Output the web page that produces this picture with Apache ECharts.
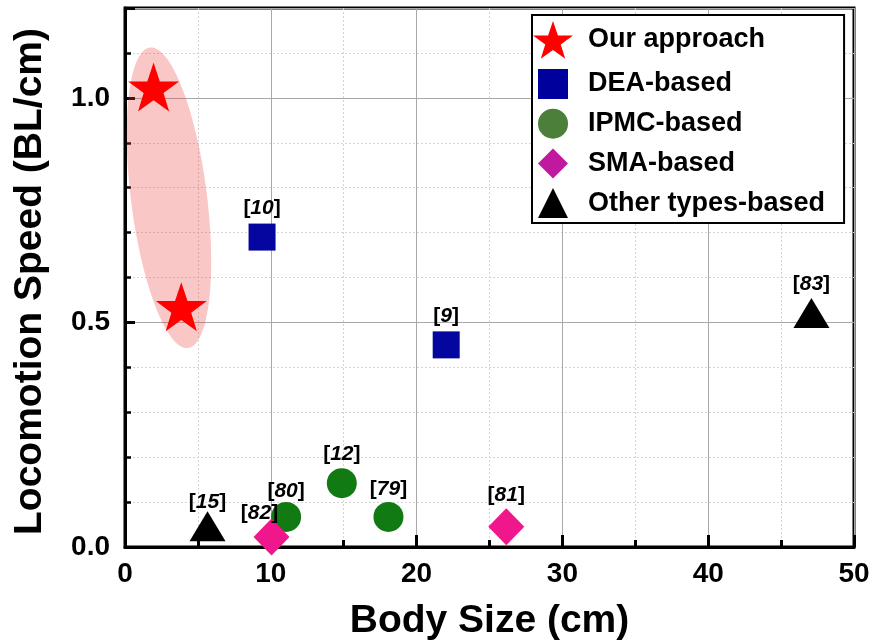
<!DOCTYPE html>
<html>
<head>
<meta charset="utf-8">
<script src="https://cdn.jsdelivr.net/npm/echarts@6/dist/echarts.min.js"></script>
<style>
html,body{margin:0;padding:0;background:#fff;}
#chart{width:873px;height:641px;}
</style>
</head>
<body>
<div id="chart"></div>
<script>
// ---- data ----
const ourX = [1.96, 3.86];
const ourY = [1.024, 0.535];

const deaX = [9.4, 22.03];
const deaY = [0.69, 0.45];
const deaRefs = ['10', '9'];

const ipmcX = [14.87, 11.05, 18.07];
const ipmcY = [0.142, 0.067, 0.067];
const ipmcRefs = ['12', '80', '79'];

const smaX = [10.05, 26.15];
const smaY = [0.022, 0.045];
const smaRefs = ['82', '81'];

const otherX = [5.66, 47.08];
const otherY = [0.046, 0.521];
const otherRefs = ['15', '83'];

// ellipse highlighting "Our approach": two ends of the major axis (x1, y1, x2, y2)
const ellipseEnds = [1.71, 1.112, 4.32, 0.443];

const seriesNames = ['Our approach', 'DEA-based', 'IPMC-based', 'SMA-based', 'Other types-based'];
const xTicks = [0, 10, 20, 30, 40, 50];
const yTicks = [0.0, 0.5, 1.0];

// ---- styles ----
const FONT = '"Liberation Sans", Arial, Helvetica, sans-serif';
const STAR = 'path://M50,0 L61.8,35.1 L98.1,35.1 L68.7,56.7 L79.4,91 L50,70 L20.6,91 L31.3,56.7 L1.9,35.1 L38.2,35.1 Z';
const ELLIPSE_HALF_WIDTH = 38;
const labelDistance = {'10': 5, '9': 5, '12': 4, '79': 2, '80': 0, '15': -1, '81': 3, '83': 3};
const labelOffset = {'82': [-12, 10]};

const richLabel = {
  b: {fontFamily: FONT, fontSize: 21, fontWeight: 'bold', color: '#000', opacity: 1},
  i: {fontFamily: FONT, fontSize: 21, fontWeight: 'bold', fontStyle: 'italic', color: '#000', opacity: 1}
};

function refData(xs, ys, refs) {
  return xs.map((x, i) => {
    const item = {value: [x, ys[i]], name: refs[i]};
    const lab = {show: true, position: 'top'};
    if (labelDistance[refs[i]] != null) lab.distance = labelDistance[refs[i]];
    if (labelOffset[refs[i]]) lab.offset = labelOffset[refs[i]];
    item.label = lab;
    return item;
  });
}

const refLabel = {
  show: true,
  position: 'top',
  color: '#000',
  opacity: 1,
  formatter: p => '{b|[}{i|' + p.name + '}{b|]}',
  rich: richLabel
};

const chart = echarts.init(document.getElementById('chart'), null, {renderer: 'canvas'});

const option = {
  backgroundColor: '#fff',
  animation: false,
  grid: {left: 125, right: 19, top: 8, bottom: 94, show: true, borderColor: '#000', borderWidth: 3,
         containLabel: false, outerBoundsMode: 'none'},
  xAxis: {
    type: 'value', min: xTicks[0], max: xTicks[xTicks.length - 1], interval: xTicks[1] - xTicks[0],
    name: 'Body Size (cm)', nameLocation: 'middle', nameGap: 55,
    nameTextStyle: {fontFamily: FONT, fontSize: 39, fontWeight: 'bold', color: '#000'},
    axisLine: {show: true, lineStyle: {color: '#000', width: 3}},
    axisTick: {show: true, inside: true, length: 12, lineStyle: {color: '#000', width: 3}},
    minorTick: {show: true, splitNumber: 2, length: 7, lineStyle: {color: '#000', width: 3}},
    axisLabel: {fontFamily: FONT, fontSize: 28, fontWeight: 'bold', color: '#000', margin: 13},
    splitLine: {show: true, lineStyle: {color: '#A8A8A8', width: 1}},
    minorSplitLine: {show: true, lineStyle: {color: '#D4D4D4', width: 1, type: [2, 2]}}
  },
  yAxis: [
    {
      type: 'value', min: 0, max: 1.2, interval: 0.1, position: 'left',
      name: 'Locomotion Speed (BL/cm)', nameLocation: 'middle', nameGap: 75,
      nameTextStyle: {fontFamily: FONT, fontSize: 39, fontWeight: 'bold', color: '#000', padding: [0, 8, 0, 0]},
      axisLine: {show: true, lineStyle: {color: '#000', width: 3}},
      axisTick: {show: true, inside: true, length: 6, lineStyle: {color: '#000', width: 2.5}},
      axisLabel: {show: false},
      splitLine: {show: true, lineStyle: {color: '#D4D4D4', width: 1, type: [2, 2]}}
    },
    {
      type: 'value', min: 0, max: 1.2, interval: yTicks[1] - yTicks[0], position: 'left', offset: 0,
      axisLine: {show: false},
      axisTick: {show: true, inside: true, length: 10, lineStyle: {color: '#000', width: 3}},
      axisLabel: {
        fontFamily: FONT, fontSize: 28, fontWeight: 'bold', color: '#000', margin: 15,
        formatter: v => {
          const t = yTicks.find(k => Math.abs(k - v) < 1e-6);
          return t == null ? '' : t.toFixed(1);
        }
      },
      splitLine: {show: true, lineStyle: {color: '#A8A8A8', width: 1}}
    }
  ],
  legend: [
    {
      orient: 'vertical', left: 533, top: 21, padding: 0,
      itemWidth: 40, itemHeight: 39, itemGap: 0,
      data: [{name: seriesNames[0], icon: STAR, itemStyle: {color: '#FF0000', opacity: 1}}],
      textStyle: {fontFamily: FONT, fontSize: 27, fontWeight: 'bold', color: '#000', padding: [0, 0, 0, 10]},
      selectedMode: false, z: 10
    },
    {
      orient: 'vertical', left: 532, top: 15,
      padding: [54, 19, 5, 6],
      itemWidth: 30, itemHeight: 30, itemGap: 9.7,
      backgroundColor: '#fff', borderColor: '#000', borderWidth: 2,
      data: [
        {name: seriesNames[1], icon: 'rect', itemStyle: {color: '#00009C', opacity: 1}},
        {name: seriesNames[2], icon: 'circle', itemStyle: {color: '#4C7F3A', opacity: 1}},
        {name: seriesNames[3], icon: 'diamond', itemStyle: {color: '#C0189F', opacity: 1}},
        {name: seriesNames[4], icon: 'triangle', itemStyle: {color: '#000', opacity: 1}}
      ],
      textStyle: {fontFamily: FONT, fontSize: 27, fontWeight: 'bold', color: '#000', padding: [0, 0, 0, 15]},
      selectedMode: false, z: 5
    }
  ],
  series: [
    {
      type: 'custom', name: 'highlight', z: 1, silent: true,
      encode: {x: [0, 2], y: [1, 3]},
      data: [ellipseEnds],
      renderItem: function (params, api) {
        const p1 = api.coord([api.value(0), api.value(1)]);
        const p2 = api.coord([api.value(2), api.value(3)]);
        const cx = (p1[0] + p2[0]) / 2, cy = (p1[1] + p2[1]) / 2;
        const a = Math.hypot(p2[0] - p1[0], p2[1] - p1[1]) / 2;
        const b = ELLIPSE_HALF_WIDTH;
        const ang = Math.atan2(p2[1] - p1[1], p2[0] - p1[0]);
        const pts = [];
        for (let k = 0; k < 120; k++) {
          const t = k / 120 * Math.PI * 2;
          const ex = a * Math.cos(t), ey = b * Math.sin(t);
          pts.push([cx + ex * Math.cos(ang) - ey * Math.sin(ang), cy + ex * Math.sin(ang) + ey * Math.cos(ang)]);
        }
        return {type: 'polygon', shape: {points: pts}, style: {fill: 'rgba(238,70,70,0.3)'}};
      }
    },
    {
      type: 'scatter', name: seriesNames[0], z: 3,
      symbol: STAR, symbolSize: [51, 49], symbolKeepAspect: false,
      itemStyle: {color: '#FF0000', opacity: 1},
      data: ourX.map((x, i) => [x, ourY[i]])
    },
    {
      type: 'scatter', name: seriesNames[1], z: 3,
      symbol: 'rect', symbolSize: 27, itemStyle: {color: '#0505A0', opacity: 1},
      label: refLabel, data: refData(deaX, deaY, deaRefs)
    },
    {
      type: 'scatter', name: seriesNames[2], z: 3,
      symbol: 'circle', symbolSize: 30, itemStyle: {color: '#127A12', opacity: 1},
      label: refLabel, data: refData(ipmcX, ipmcY, ipmcRefs)
    },
    {
      type: 'scatter', name: seriesNames[3], z: 4,
      symbol: 'diamond', symbolSize: [36, 37], itemStyle: {color: '#F0168C', opacity: 1},
      label: refLabel, data: refData(smaX, smaY, smaRefs)
    },
    {
      type: 'scatter', name: seriesNames[4], z: 3,
      symbol: 'triangle', symbolSize: [36, 30], itemStyle: {color: '#000', opacity: 1},
      label: refLabel, data: refData(otherX, otherY, otherRefs)
    }
  ]
};
chart.setOption(option);
</script>
</body>
</html>
